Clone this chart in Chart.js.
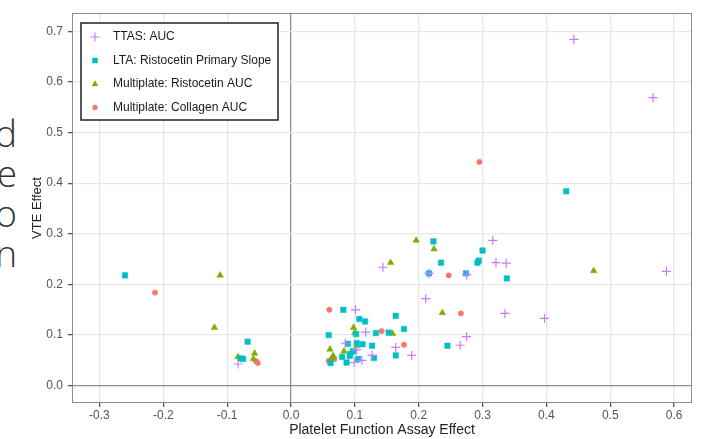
<!DOCTYPE html>
<html>
<head>
<meta charset="utf-8">
<script src="https://cdn.jsdelivr.net/npm/chart.js@4.4.1/dist/chart.umd.min.js"></script>
<style>
  html, body { margin: 0; padding: 0; background: #fff; }
  #wrap { position: relative; width: 710px; height: 439px; overflow: hidden; }
  #chart { position: absolute; left: 0; top: 0; }
  .side { position: absolute; right: 693px; font-family: "Open Sans", "Liberation Sans", sans-serif;
          font-weight: 300; font-size: 37px; line-height: 1; color: #333; white-space: nowrap; }
</style>
</head>
<body>
<div id="wrap">
  <div class="side" style="top:114px">d</div>
  <div class="side" style="top:154px">e</div>
  <div class="side" style="top:194px">o</div>
  <div class="side" style="top:234px">n</div>
  <canvas id="chart" width="710" height="439"></canvas>
</div>
<script>
// series names
const seriesNames = ["TTAS: AUC", "LTA: Ristocetin Primary Slope", "Multiplate: Ristocetin AUC", "Multiplate: Collagen AUC"];

// TTAS: AUC
const ttasX = [0.443, 0.567, 0.316, 0.321, 0.337, 0.588, 0.216, 0.275, 0.211, 0.335, 0.397, 0.275, 0.265,
               0.144, 0.101, 0.117, 0.085, 0.164, 0.189, 0.127, 0.103, 0.099, 0.111, -0.083];
const ttasY = [0.684, 0.569, 0.287, 0.243, 0.242, 0.226, 0.222, 0.219, 0.172, 0.143, 0.133, 0.097, 0.080,
               0.234, 0.150, 0.106, 0.084, 0.076, 0.060, 0.060, 0.071, 0.046, 0.050, 0.043];

// LTA: Ristocetin Primary Slope
const ltaX = [0.431, 0.223, 0.300, 0.235, 0.292, 0.294, 0.216, 0.274, 0.338, 0.177, -0.260, -0.068, -0.079, -0.075,
              0.082, 0.164, 0.107, 0.116, 0.059, 0.102, 0.133, 0.153, 0.089, 0.103, 0.112, 0.127, 0.130,
              0.097, 0.093, 0.092, 0.062, 0.105, 0.087, 0.164, 0.080, 0.245];
const ltaY = [0.384, 0.285, 0.267, 0.243, 0.243, 0.247, 0.222, 0.222, 0.212, 0.112, 0.218, 0.087, 0.054, 0.053,
              0.150, 0.138, 0.132, 0.127, 0.100, 0.102, 0.104, 0.105, 0.083, 0.084, 0.082, 0.079, 0.055,
              0.068, 0.063, 0.059, 0.045, 0.053, 0.046, 0.060, 0.057, 0.079];

// Multiplate: Ristocetin AUC
const ristoX = [0.196, 0.224, 0.474, 0.237, 0.156, -0.111, -0.120, -0.083, -0.057, -0.059,
                0.098, 0.100, 0.159, 0.103, 0.083, 0.061, 0.066, 0.064];
const ristoY = [0.287, 0.270, 0.227, 0.144, 0.243, 0.218, 0.115, 0.057, 0.064, 0.053,
                0.115, 0.105, 0.103, 0.079, 0.068, 0.072, 0.059, 0.055];

// Multiplate: Collagen AUC
const collX = [0.295, 0.247, 0.266, -0.213, -0.055, -0.052, 0.060, 0.142, 0.177, 0.059, 0.068];
const collY = [0.442, 0.218, 0.143, 0.184, 0.049, 0.045, 0.150, 0.108, 0.081, 0.049, 0.053];

const xTicks = [-0.3, -0.2, -0.1, 0.0, 0.1, 0.2, 0.3, 0.4, 0.5, 0.6];
const yTicks = [0.0, 0.1, 0.2, 0.3, 0.4, 0.5, 0.6, 0.7];

const colors = ["#C77CFF", "#00BFC4", "#7CAE00", "#F8766D"];
const styles = ["cross", "rect", "triangle", "circle"];
const sizes = [4.6, 3.9, 3.8, 2.7];

function pts(xs, ys) {
  return xs.map(function (x, i) { return { x: x, y: ys[i] }; });
}

const FONT = "'Liberation Sans', Arial, sans-serif";

function gridColor(ctx) {
  if (ctx.tick && Math.abs(ctx.tick.value) < 1e-9) return "#8e8e8e";
  return "#e8e8e8";
}

function drawSymbol(ctx, style, x, y, r) {
  ctx.beginPath();
  if (style === "cross") {
    ctx.moveTo(x - r, y); ctx.lineTo(x + r, y);
    ctx.moveTo(x, y - r); ctx.lineTo(x, y + r);
    ctx.stroke();
    return;
  }
  if (style === "rect") {
    let s = Math.SQRT1_2 * r;
    ctx.rect(x - s, y - s, 2 * s, 2 * s);
  } else if (style === "triangle") {
    ctx.moveTo(x, y - r);
    ctx.lineTo(x + r * 0.866, y + r * 0.5);
    ctx.lineTo(x - r * 0.866, y + r * 0.5);
    ctx.closePath();
  } else {
    ctx.arc(x, y, r, 0, Math.PI * 2);
  }
  ctx.fill();
}

// panel border + legend box inside the plot
const panelExtras = {
  id: "panelExtras",
  afterDraw(chart) {
    const ctx = chart.ctx;
    const a = chart.chartArea;
    ctx.save();
    ctx.strokeStyle = "#8c8c8c";
    ctx.lineWidth = 1;
    ctx.strokeRect(a.left + 0.5, a.top + 0.5, a.right - a.left - 1, a.bottom - a.top - 1);

    let lx = a.left + 9, ly = a.top + 10, lw = 197, lh = 97;
    ctx.fillStyle = "#fff";
    ctx.fillRect(lx, ly, lw, lh);
    ctx.strokeStyle = "#222";
    ctx.lineWidth = 1.5;
    ctx.strokeRect(lx, ly, lw, lh);

    ctx.font = "12px " + FONT;
    ctx.textBaseline = "middle";
    for (let i = 0; i < seriesNames.length; i++) {
      let cy = ly + 14 + i * 23.5;
      ctx.fillStyle = colors[i];
      ctx.strokeStyle = colors[i];
      ctx.lineWidth = 1.2;
      drawSymbol(ctx, styles[i], lx + 14, cy, sizes[i]);
      ctx.fillStyle = "#1a1a1a";
      ctx.fillText(seriesNames[i], lx + 32, cy);
    }
    ctx.restore();
  }
};

const datasets = [
  { label: seriesNames[0], data: pts(ttasX, ttasY) },
  { label: seriesNames[1], data: pts(ltaX, ltaY) },
  { label: seriesNames[2], data: pts(ristoX, ristoY) },
  { label: seriesNames[3], data: pts(collX, collY) }
].map(function (d, i) {
  d.pointStyle = styles[i];
  d.pointRadius = sizes[i];
  d.backgroundColor = colors[i];
  d.borderColor = colors[i];
  d.borderWidth = i === 0 ? 1.2 : 0.5;
  return d;
});

new Chart("chart", {
  type: "scatter",
  data: { datasets: datasets },
  plugins: [panelExtras],
  options: {
    responsive: false,
    animation: false,
    layout: { padding: { top: 13, right: 18, left: 0, bottom: 0 } },
    plugins: {
      legend: { display: false },
      tooltip: { enabled: false }
    },
    scales: {
      x: {
        type: "linear",
        min: -0.343,
        max: 0.628,
        afterBuildTicks: function (scale) { scale.ticks = xTicks.map(function (v) { return { value: v }; }); },
        afterFit: function (scale) { scale.height = 36; },
        border: { display: false },
        grid: { color: gridColor, lineWidth: 1.3, tickColor: "#555", tickLength: 4 },
        ticks: {
          padding: 1,
          color: "#555",
          font: { size: 12, family: FONT },
          callback: function (v) { return v.toFixed(1); }
        },
        title: {
          display: true,
          text: "Platelet Function Assay Effect",
          color: "#222",
          font: { size: 14, family: FONT },
          padding: { top: -3, bottom: 0 }
        }
      },
      y: {
        type: "linear",
        min: -0.034,
        max: 0.736,
        afterBuildTicks: function (scale) { scale.ticks = yTicks.map(function (v) { return { value: v }; }); },
        afterFit: function (scale) { scale.width = 72; },
        border: { display: false },
        grid: { color: gridColor, lineWidth: 1.3, tickColor: "#555", tickLength: 4 },
        ticks: {
          padding: 5,
          color: "#555",
          font: { size: 12, family: FONT },
          callback: function (v) { return v.toFixed(1); }
        },
        title: {
          display: true,
          text: "VTE Effect",
          color: "#222",
          font: { size: 13, family: FONT },
          padding: { top: 30, bottom: 0 }
        }
      }
    }
  }
});
</script>
</body>
</html>
